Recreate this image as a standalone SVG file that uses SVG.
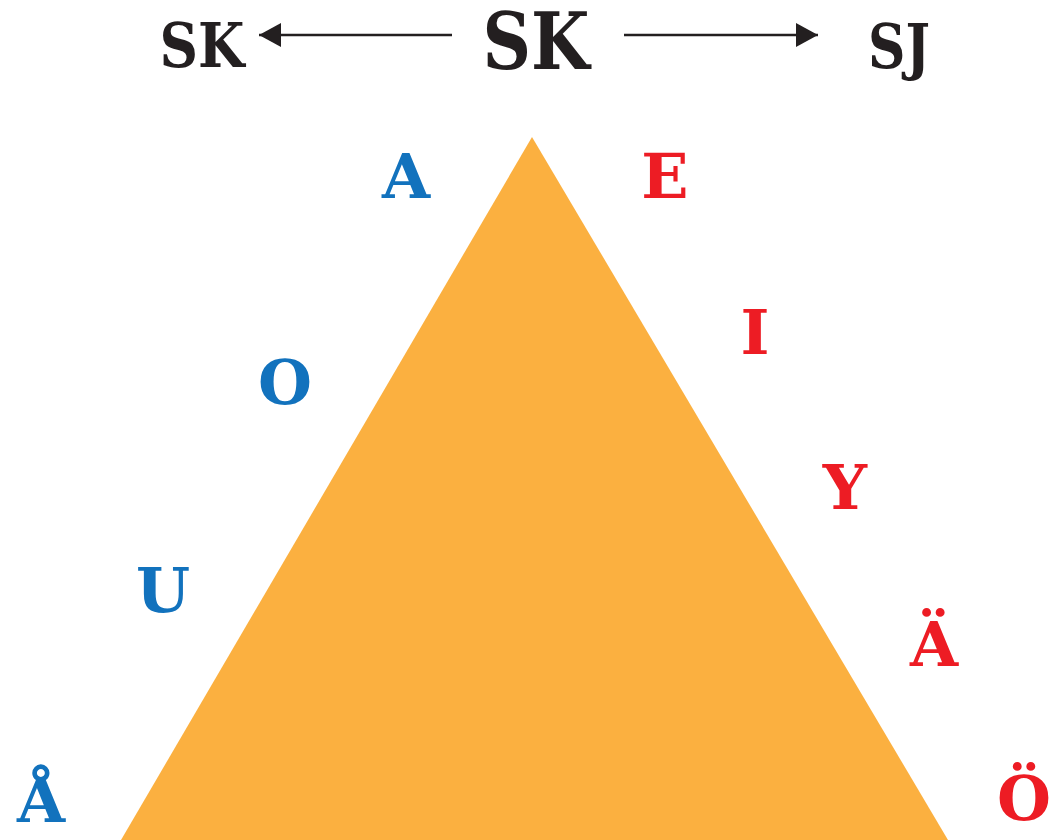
<svg xmlns="http://www.w3.org/2000/svg" width="1050" height="840" viewBox="0 0 1050 840">
<style>
.t{font-family:"DejaVu Serif","Liberation Serif",serif;font-weight:bold;text-anchor:middle}
.k{fill:#231F20}
.b{fill:#1272BD;font-size:62px}
.r{fill:#ED1C24;font-size:62px}
.ln{stroke:#231F20;stroke-width:2.5;fill:none}
</style>
<defs>
<marker id="ah" viewBox="0 0 22 24" refX="22" refY="12" markerWidth="22" markerHeight="24" markerUnits="userSpaceOnUse" orient="auto">
<path d="M0,0 L22,12 L0,24 Z" fill="#231F20"/>
</marker>
</defs>
<rect width="1050" height="840" fill="#fff"/>
<g id="triangle"><polygon points="532,137 121,840 948,840" fill="#FBB040"/></g>
<g id="connectors">
<line class="ln" x1="452" y1="35" x2="259" y2="35" marker-end="url(#ah)"/>
<line class="ln" x1="624" y1="35" x2="818" y2="35" marker-end="url(#ah)"/>
</g>
<g id="sk-main"><text class="t k" x="536" y="69" font-size="78" textLength="107" lengthAdjust="spacingAndGlyphs">SK</text></g>
<g id="sk-left"><text class="t k" x="202" y="67" font-size="62" textLength="85" lengthAdjust="spacingAndGlyphs">SK</text></g>
<g id="sj-right"><text class="t k" x="899" y="68" font-size="62" textLength="62" lengthAdjust="spacingAndGlyphs">SJ</text></g>
<g id="v-a"><text class="t b" x="406" y="198">A</text></g>
<g id="v-o"><text class="t b" x="285" y="404">O</text></g>
<g id="v-u"><text class="t b" x="163" y="612">U</text></g>
<g id="v-aa"><text class="t b" x="41" y="822">Å</text></g>
<g id="v-e"><text class="t r" x="665" y="198">E</text></g>
<g id="v-i"><text class="t r" x="755" y="354">I</text></g>
<g id="v-y"><text class="t r" x="845" y="509">Y</text></g>
<g id="v-ae"><text class="t r" x="934" y="666">Ä</text></g>
<g id="v-oe"><text class="t r" x="1024" y="820" font-size="60">Ö</text></g>
</svg>
